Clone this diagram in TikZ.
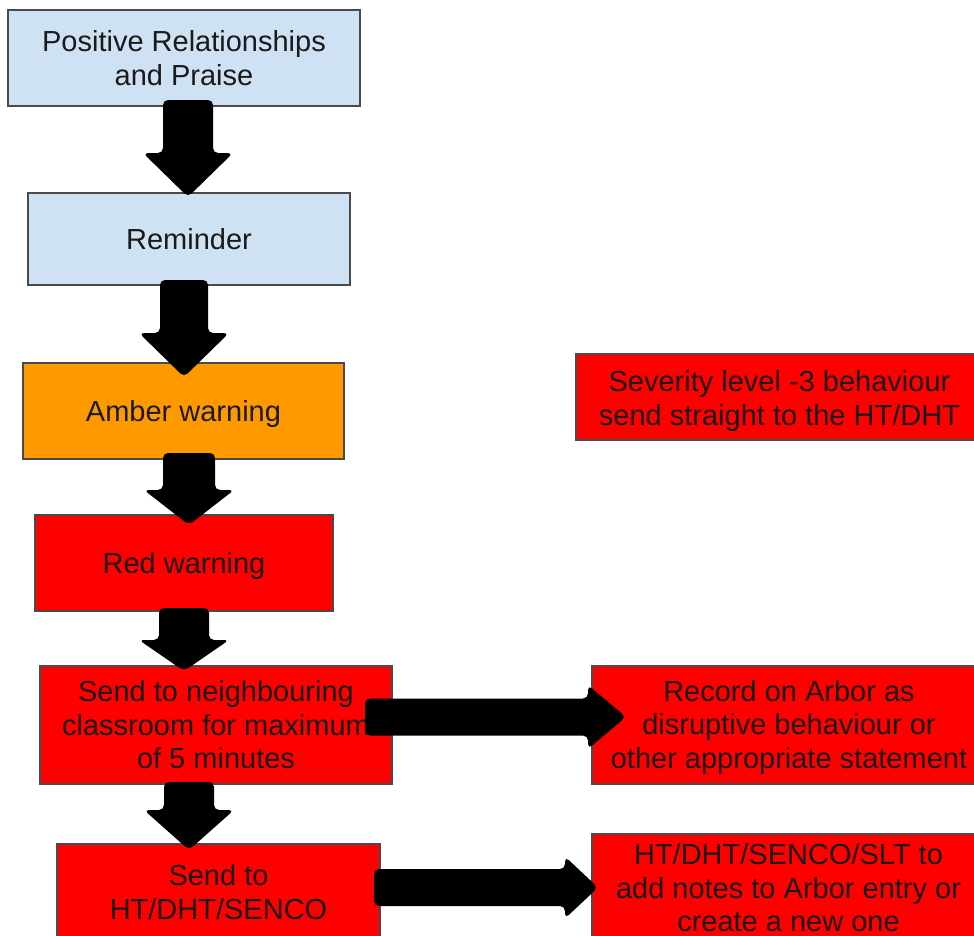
\documentclass[tikz,border=0pt]{standalone}
\usepackage{fontspec}
\setmainfont{Liberation Sans}
\usetikzlibrary{calc}
\definecolor{boxblue}{HTML}{CFE2F3}
\definecolor{boxamber}{HTML}{FF9900}
\definecolor{boxred}{HTML}{FF0000}
\definecolor{boxline}{HTML}{4A4A4A}
\definecolor{txt}{HTML}{1A1A1A}
\tikzset{
  stepbox/.style={rectangle, draw=boxline, line width=1.3pt, inner sep=0pt,
    align=center, text=txt, font=\fontsize{29}{33.5}\selectfont},
  blk/.style={fill=black, rounded corners=5pt},
}
\newcommand\vblk[5]{%
  \fill[blk] ($(#1)+(-#3,0)$) -- ($(#2)+(-#3,-#5)$) -- ($(#2)+(-#4,-#5)$) -- (#2)
    -- ($(#2)+(#4,-#5)$) -- ($(#2)+(#3,-#5)$) -- ($(#1)+(#3,0)$) -- cycle;}
\newcommand\hblk[5]{%
  \fill[blk] ($(#1)+(0,-#3)$) -- ($(#2)+(-#5,-#3)$) -- ($(#2)+(-#5,-#4)$) -- (#2)
    -- ($(#2)+(-#5,#4)$) -- ($(#2)+(-#5,#3)$) -- ($(#1)+(0,#3)$) -- cycle;}
\begin{document}
\begin{tikzpicture}[x=1pt,y=-1pt]
\useasboundingbox (0,0) rectangle (974,935);
\clip (0,0) rectangle (974,935);
\fill[white] (0,0) rectangle (974,935);
% boxes
\node[stepbox, fill=boxblue, minimum width=352pt, minimum height=96pt] (b1) at (184,58) {Positive Relationships\\and Praise};
\node[stepbox, fill=boxblue, minimum width=322pt, minimum height=92pt] (b2) at (189,239) {Reminder};
\node[stepbox, fill=boxamber, minimum width=321pt, minimum height=96pt, text depth=0pt] (b3) at (183.5,411) {Amber warning};
\node[stepbox, fill=boxred, minimum width=298pt, minimum height=96pt, text depth=0pt] (b4) at (184,563) {Red warning};
\node[stepbox, fill=boxred, minimum width=352pt, minimum height=118pt] (b5) at (216,725) {Send to neighbouring\\classroom for maximum\\of 5 minutes};
\node[stepbox, fill=boxred, minimum width=323pt, minimum height=96pt] (b6) at (218.5,892) {Send to\\HT/DHT/SENCO};
\node[stepbox, fill=boxred, minimum width=407pt, minimum height=86pt] (b7) at (779.5,397) {};
\node[text=txt, font=\fontsize{29}{33.5}\selectfont, align=center, inner sep=0pt] (t7) at (779.5,401) {Severity level -3 behaviour\\send straight to the HT/DHT};
\node[stepbox, fill=boxred, minimum width=394pt, minimum height=118pt] (b8) at (789,725) {};
\node[text=txt, font=\fontsize{29}{33.5}\selectfont, align=center, inner sep=0pt] (t8) at (789,727) {Record on Arbor as\\disruptive behaviour or\\other appropriate statement};
\node[stepbox, fill=boxred, minimum width=393pt, minimum height=108pt] (b9) at (788.5,888) {HT/DHT/SENCO/SLT to\\add notes to Arbor entry or\\create a new one};
% arrow end points
\coordinate (a1s) at (188,100); \coordinate (a1t) at (188,197);
\coordinate (a2s) at (184,280); \coordinate (a2t) at (184,377);
\coordinate (a3s) at (189,453); \coordinate (a3t) at (189,525);
\coordinate (a4s) at (184,608); \coordinate (a4t) at (184,671);
\coordinate (a6s) at (189,782); \coordinate (a6t) at (189,850);
\coordinate (a5s) at (365,717); \coordinate (a5t) at (626,717);
\coordinate (a7s) at (374,887.5); \coordinate (a7t) at (598,887.5);
% arrows
\vblk{a1s}{a1t}{25}{45}{44}
\vblk{a2s}{a2t}{24}{45}{44}
\vblk{a3s}{a3t}{26}{45}{35}
\vblk{a4s}{a4t}{25}{45}{31}
\vblk{a6s}{a6t}{25}{45}{40}
\hblk{a5s}{a5t}{18.5}{32}{38}
\hblk{a7s}{a7t}{18.5}{31}{33}
\end{tikzpicture}
\end{document}
